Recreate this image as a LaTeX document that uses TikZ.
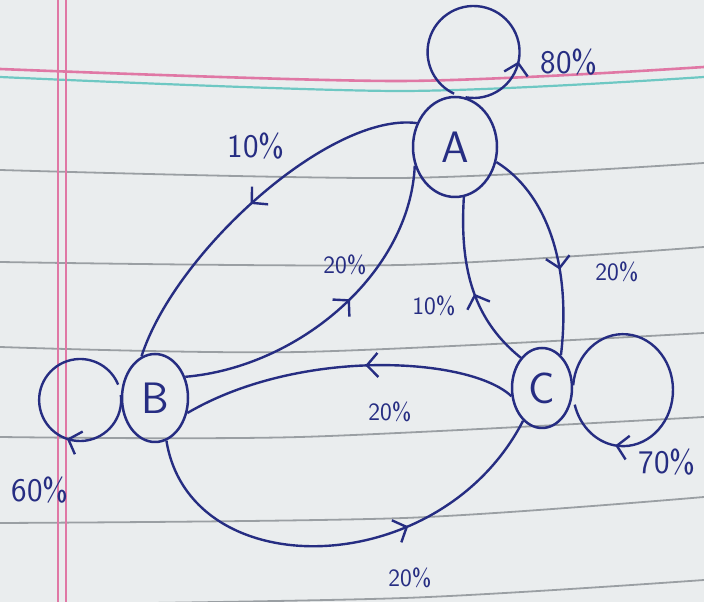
\documentclass[tikz,border=0pt]{standalone}
\usepackage{fontspec}
\usetikzlibrary{shapes.geometric,arrows.meta,decorations.markings}
\definecolor{ink}{RGB}{38,45,130}
\definecolor{paper}{RGB}{234,237,238}
\definecolor{rulegray}{RGB}{135,140,145}
\definecolor{marginpink}{RGB}{224,120,165}
\definecolor{cyanline}{RGB}{110,200,195}
\tikzset{
  state/.style={ellipse, draw=ink, line width=2.5pt, inner sep=0pt, text=ink,
    font=\sffamily\fontsize{44}{44}\selectfont},
  edge/.style={draw=ink, line width=2.4pt},
  midarrow/.style={postaction={decorate}, decoration={markings,
    mark=at position #1 with {\arrow{Straight Barb[length=11pt,width=24pt]}}}},
  lbl/.style={text=ink, inner sep=0pt, font=\sffamily\fontsize{33}{33}\selectfont},
  slbl/.style={text=ink, inner sep=0pt, font=\sffamily\fontsize{25}{25}\selectfont},
  ruling/.style={draw=rulegray, line width=1.8pt, opacity=0.8},
}
\begin{document}
\begin{tikzpicture}[x=1pt,y=1pt]
\useasboundingbox (0,0) rectangle (704,602);
\fill[paper] (0,0) rectangle (704,602);
% paper ruling
\draw[ruling] plot[smooth] coordinates {(0,432) (400,424) (704,439)};
\draw[ruling] plot[smooth] coordinates {(0,340) (400,337) (704,355)};
\draw[ruling] plot[smooth] coordinates {(0,255) (300,250) (704,269)};
\draw[ruling] plot[smooth] coordinates {(0,165) (300,165) (704,185)};
\draw[ruling] plot[smooth] coordinates {(0,79) (404,84) (704,105)};
\draw[ruling] plot[smooth] coordinates {(0,-3) (404,4) (704,22)};
\draw[cyanline, line width=2.2pt] plot[smooth] coordinates {(0,525) (400,511) (704,525)};
\draw[marginpink, line width=2.6pt] plot[smooth] coordinates {(0,533) (400,521) (704,535)};
\draw[marginpink, line width=1.4pt] (58,0) -- (58,602);
\draw[marginpink, line width=1.4pt] (66,0) -- (66,602);
% states
\node[state, minimum width=84pt, minimum height=100pt] (A) at (455,455) {A};
\node[state, minimum width=66pt, minimum height=88pt] (B) at (155,204) {B};
\node[state, minimum width=60pt, minimum height=80pt] (C) at (542,214) {C};
% transitions
\draw[edge, midarrow=0.5] (A.148) .. controls (330,490) and (175,350) .. (B.108);
\draw[edge, midarrow=0.55] (B.35) .. controls (300,235) and (410,330) .. (A.205);
\draw[edge, midarrow=0.6] (A.-20) .. controls (545,410) and (572,340) .. (C.60);
\draw[edge, midarrow=0.45] (C.125) .. controls (470,285) and (460,340) .. (A.-80);
\draw[edge, midarrow=0.45] (C.195) .. controls (470,245) and (300,255) .. (B.-25);
\draw[edge, midarrow=0.65] (B.-75) .. controls (190,15) and (440,20) .. (C.240);
% self loops
\draw[edge, midarrow=0.255] (A.78) arc[start angle=-100, end angle=245, radius=46];
\draw[edge, midarrow=0.336] (B.175) arc[start angle=7, end angle=-338, radius=41];
\draw[edge, midarrow=0.806] (C.5) arc[start angle=175, end angle=-165, x radius=50, y radius=56];
% labels
\node[lbl] (p80) at (569,540) {80\%};
\node[lbl] (p10a) at (256,456) {10\%};
\node[slbl] (p20a) at (345,337) {20\%};
\node[slbl] (p20b) at (617,330) {20\%};
\node[slbl] (p10b) at (434,296) {10\%};
\node[slbl] (p20c) at (390,190) {20\%};
\node[slbl] (p20d) at (410,24) {20\%};
\node[lbl] (p60) at (40,112) {60\%};
\node[lbl] (p70) at (667,140) {70\%};
\end{tikzpicture}
\end{document}
